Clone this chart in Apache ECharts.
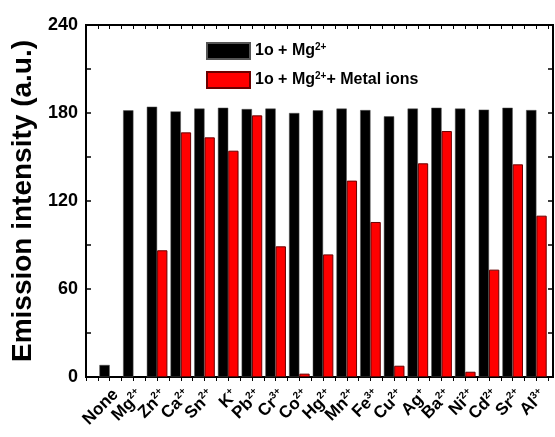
<!DOCTYPE html>
<html>
<head>
<meta charset="utf-8">
<script src="https://cdn.jsdelivr.net/npm/echarts@6/dist/echarts.min.js"></script>
<style>html,body{margin:0;padding:0;background:#fff;}#c{width:555px;height:437px;}</style>
</head>
<body>
<div id="c"></div>
<script>
var categories = ['None','Mg','Zn','Ca','Sn','K','Pb','Cr','Co','Hg','Mn','Fe','Cu','Ag','Ba','Ni','Cd','Sr','Al'];
var charges = ['', '2+','2+','2+','2+','+','2+','3+','2+','2+','2+','3+','2+','+','2+','2+','2+','2+','3+'];
var mgValues = [8.2, 181.8, 184.3, 181.1, 183, 183.6, 182.7, 183, 180, 181.8, 183, 182, 177.7, 183, 183.6, 183, 182.3, 183.6, 182];
var metalValues = [null, null, 86.4, 166.8, 163.4, 154.3, 178.4, 89.1, 2.3, 83.6, 133.9, 105.7, 7.7, 145.7, 167.7, 3.6, 73.2, 145, 110];
var yTicks = [0, 60, 120, 180, 240];
var seriesNames = ['1o + Mg2+', '1o + Mg2+ + Metal ions'];

var FONT = '"Liberation Sans", Arial, sans-serif';
var chart = echarts.init(document.getElementById('c'));

function pairs(arr) {
  return arr.map(function (v, i) { return [i, v]; });
}

var option = {
  backgroundColor: '#fff',
  animation: false,
  textStyle: { fontFamily: FONT },
  grid: {
    left: 86, right: 2, top: 25, bottom: 60,
    show: true, borderColor: '#000', borderWidth: 2, backgroundColor: 'transparent'
  },
  legend: {
    orient: 'vertical',
    left: 206, top: 42, padding: 0,
    itemWidth: 43, itemHeight: 16, itemGap: 11,
    icon: 'rect',
    data: seriesNames,
    textStyle: {
      fontFamily: FONT, fontSize: 16, fontWeight: 'bold', color: '#000',
      rich: {
        t: { fontFamily: FONT, fontSize: 16, fontWeight: 'bold', color: '#000' },
        s: { fontFamily: FONT, fontSize: 10, fontWeight: 'bold', color: '#000', verticalAlign: 'top', padding: [0, 0, 8, 0] }
      }
    },
    formatter: function (name) {
      if (name === seriesNames[0]) return '{t|1o + Mg}{s|2+}';
      return '{t|1o + Mg}{s|2+}{t|+ Metal ions}';
    }
  },
  xAxis: [{
    type: 'value',
    min: -1, max: 18.7, interval: 0.5,
    position: 'bottom',
    splitLine: { show: false },
    axisLine: { show: true, onZero: false, lineStyle: { color: '#000', width: 2 } },
    axisTick: { show: true, inside: false, length: 4, lineStyle: { color: '#000', width: 1 } },
    axisLabel: {
      show: true, rotate: 45, margin: 9, interval: 0,
      verticalAlign: 'top',
      showMinLabel: true, showMaxLabel: false,
      formatter: function (v) {
        if (Math.abs(v - Math.round(v)) > 1e-6) return '';
        var i = Math.round(v);
        if (i < 0 || i >= categories.length) return '';
        return '{b|' + categories[i] + '}' + (charges[i] ? '{s|' + charges[i] + '}' : '');
      },
      rich: {
        b: { fontFamily: FONT, fontSize: 17, fontWeight: 'bold', color: '#000' },
        s: { fontFamily: FONT, fontSize: 10, fontWeight: 'bold', color: '#000', verticalAlign: 'top', padding: [0, 0, 9, 0] }
      }
    }
  }, {
    type: 'value',
    min: -1, max: 18.7, interval: 0.5,
    position: 'top',
    splitLine: { show: false },
    axisLine: { show: true, onZero: false, lineStyle: { color: '#000', width: 2 } },
    axisTick: { show: true, inside: true, length: 4, lineStyle: { color: '#000', width: 1 } },
    axisLabel: { show: false }
  }],
  yAxis: [{
    type: 'value',
    min: 0, max: 240, interval: 30,
    position: 'left',
    name: 'Emission intensity (a.u.)',
    nameLocation: 'middle', nameGap: 43,
    nameTextStyle: { fontFamily: FONT, fontSize: 28, fontWeight: 'bold', color: '#000' },
    splitLine: { show: false },
    axisLine: { show: true, onZero: false, lineStyle: { color: '#000', width: 2 } },
    axisTick: { show: true, inside: true, length: 5, lineStyle: { color: '#000', width: 1.5 } },
    axisLabel: {
      fontFamily: FONT, fontSize: 18, fontWeight: 'bold', color: '#000', margin: 8,
      formatter: function (v) { return yTicks.indexOf(v) >= 0 ? String(v) : ''; }
    }
  }, {
    type: 'value',
    min: 0, max: 240, interval: 30,
    position: 'right',
    splitLine: { show: false },
    axisLine: { show: true, onZero: false, lineStyle: { color: '#000', width: 2 } },
    axisTick: { show: true, inside: true, length: 5, lineStyle: { color: '#000', width: 1.5 } },
    axisLabel: { show: false }
  }],
  series: [{
    name: seriesNames[0],
    type: 'bar',
    xAxisIndex: 0, yAxisIndex: 0,
    barWidth: 10.3, barGap: '0%',
    itemStyle: { color: '#000', borderColor: '#555', borderWidth: 0.5 },
    data: pairs(mgValues)
  }, {
    name: seriesNames[1],
    type: 'bar',
    xAxisIndex: 0, yAxisIndex: 0,
    barWidth: 10.3, barGap: '0%',
    itemStyle: { color: '#ff0000', borderColor: '#6a0000', borderWidth: 1 },
    data: pairs(metalValues)
  }]
};
chart.setOption(option);
</script>
</body>
</html>
